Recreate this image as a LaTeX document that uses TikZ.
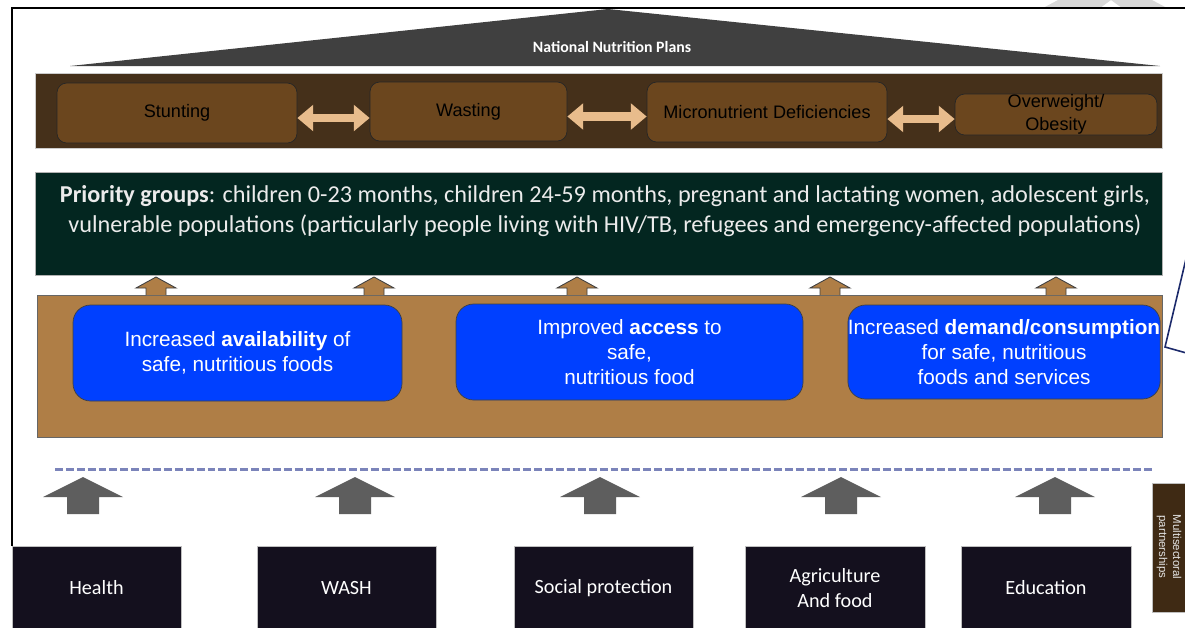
\documentclass[tikz,border=0pt]{standalone}
\usepackage{fontspec}
\setmainfont{Carlito}
\newfontfamily\arialfont{Liberation Sans}
\usetikzlibrary{arrows.meta,positioning}
\newdimen\px \px=0.02cm
\definecolor{planGrey}{HTML}{404040}
\definecolor{bandDark}{HTML}{45301A}
\definecolor{burdenBox}{HTML}{6B461E}
\definecolor{tanArrow}{HTML}{E8BC8C}
\definecolor{prioGreen}{HTML}{032620}
\definecolor{bandLight}{HTML}{AF7E46}
\definecolor{resultBlue}{HTML}{0040FF}
\definecolor{dashBlue}{HTML}{7B84BA}
\definecolor{sectArrow}{HTML}{5E5E5E}
\definecolor{sectorBox}{HTML}{14101E}
\definecolor{partBrown}{HTML}{3F2A14}
\definecolor{calloutNavy}{HTML}{1C2A6B}
\tikzset{
  burden/.style={draw=black!85, fill=burdenBox, rounded corners=5.5pt, inner sep=0pt,
    align=center, text=black, font=\arialfont\fontsize{10.3}{13}\selectfont},
  result/.style={draw=black!75, fill=resultBlue, rounded corners=10pt, inner sep=0pt,
    align=center, text=white, font=\arialfont\fontsize{11.8}{14.2}\selectfont},
  sector/.style={draw=black!25, fill=sectorBox, inner sep=0pt, align=center,
    text=white, font=\fontsize{11.5}{14.2}\selectfont},
  linkarrow/.style={draw=tanArrow, line width=5.1pt,
    {Triangle[width=14.5pt,length=9pt]}-{Triangle[width=14.5pt,length=9pt]}},
  feedarrow/.style={draw=black!75, fill=bandLight, line width=0.5pt},
}
\begin{document}
\begin{tikzpicture}[x=0.02cm,y=-0.02cm]
\useasboundingbox (0,0) rectangle (1185,627);
\clip (0,0) rectangle (1185,627);
\fill[white] (0,0) rectangle (1185,627);
% grey mark top right and frame
\fill[black!15] (1043,8) -- (1058,0) -- (1152,0) -- (1167,8) -- (1122,8) -- (1111,0) -- (1100,8) -- cycle;
\draw[line width=1.1pt] (12,546) -- (12,8) -- (1190,8);
% national plans
\fill[planGrey] (70,66) -- (608,9) -- (1160,66) -- cycle;
\node[text=white, font=\bfseries\fontsize{9}{10}\selectfont] (plans) at (612,47) {National Nutrition Plans};
% burdens
\node[draw=black!20, fill=bandDark, minimum width=1127\px, minimum height=75\px] (burdens) at (598.5,110.5) {};
\node[burden, minimum width=240\px, minimum height=60\px] (stunt) at (177,113) {Stunting};
\node[burden, minimum width=197\px, minimum height=59\px] (wast) at (468.5,111.5) {Wasting};
\node[burden, minimum width=240\px, minimum height=60\px] (micro) at (767,112) {Micronutrient Deficiencies};
\node[burden, minimum width=202\px, minimum height=41\px] (obese) at (1056,114.5) {Overweight/\\Obesity};
\draw[linkarrow] ([yshift=-5\px]stunt.east) -- ([yshift=-5\px]stunt.east -| wast.west);
\draw[linkarrow] ([yshift=-5\px]wast.east) -- ([yshift=-5\px]wast.east -| micro.west);
\draw[linkarrow] ([yshift=-7\px]micro.east) -- ([yshift=-7\px]micro.east -| obese.west);
% priority groups
\node[draw=black!30, fill=prioGreen, minimum width=1127\px, minimum height=103\px] (prio) at (598.5,223.5) {};
\node[text=black!8, align=center, font=\fontsize{13.8}{17}\selectfont] (groups) at (605,211)
  {\textbf{Priority groups}: children 0-23 months, children 24-59 months, pregnant and lactating women, adolescent girls,\\
   vulnerable populations (particularly people living with HIV/TB, refugees and emergency-affected populations)};
% results
\node[draw=black!60, fill=bandLight, minimum width=1125\px, minimum height=142\px] (band) at (599.5,366) {};
\foreach \ax in {156,374,577,830,1056}
  \draw[feedarrow] (\ax-10,295) -- (\ax-10,288) -- (\ax-20,288) -- (\ax,277) -- (\ax+20,288) -- (\ax+10,288) -- (\ax+10,295);
\node[result, minimum width=329\px, minimum height=96\px] (avail) at (237.5,353)
  {Increased \textbf{availability} of\\safe, nutritious foods};
\node[result, minimum width=347\px, minimum height=96\px] (access) at (629.5,352)
  {Improved \textbf{access} to\\safe,\\nutritious food};
\node[result, minimum width=312\px, minimum height=94\px] (demand) at (1004,352)
  {Increased \textbf{demand/consumption}\\for safe, nutritious\\foods and services};
\draw[calloutNavy, fill=white, line width=0.9pt] (1190,242) -- (1165,347) -- (1190,354);
% sectors
\draw[dashBlue, line width=1.7pt, dash pattern=on 4.5pt off 1.7pt] (55,469) -- (1152,469);
\foreach \ax in {83,355,600,841,1055}
  \fill[sectArrow] (\ax-16,514) -- (\ax-16,497) -- (\ax-40,497) -- (\ax,477) -- (\ax+40,497) -- (\ax+16,497) -- (\ax+16,514) -- cycle;
\node[sector, minimum width=169\px, minimum height=84\px] (health) at (96.5,588) {Health};
\node[sector, minimum width=179\px, minimum height=84\px] (wash) at (346.5,588) {WASH};
\node[sector, minimum width=179\px, minimum height=84\px] (social) at (603.5,588) {Social protection};
\node[sector, minimum width=180\px, minimum height=84\px] (agri) at (835,588) {Agriculture\\And food};
\node[sector, minimum width=170\px, minimum height=84\px] (educ) at (1046,588) {\raisebox{-4\px}{Education}};
\node[draw=black!25, fill=partBrown, minimum width=45\px, minimum height=129\px] (partner) at (1174.5,547.5) {};
\node[rotate=-90, text=black!10, align=center, font=\arialfont\fontsize{6.5}{8}\selectfont] (partText) at (1169,547)
  {Multisectoral\\partnerships};
\end{tikzpicture}
\end{document}
